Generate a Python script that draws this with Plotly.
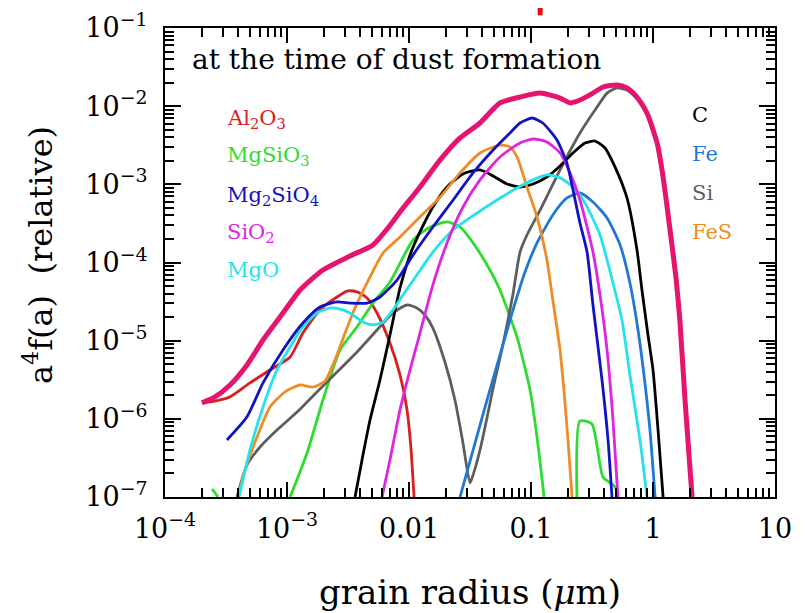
import plotly.graph_objects as go

# ---------------- data (grain radius in micron, a^4 f(a) relative) ----------------
a_total = [2.01e-4, 2.57e-4, 3.41e-4, 4.70e-4, 6.36e-4, 9.27e-4, 1.28e-3, 1.97e-3, 3.28e-3, 5.07e-3,
           6.61e-3, 8.44e-3, 1.23e-2, 1.80e-2, 2.62e-2, 3.82e-2, 5.57e-2, 8.13e-2, 0.119, 0.173,
           0.209, 0.252, 0.322, 0.389, 0.507, 0.612, 0.739, 0.893, 1.08, 1.21,
           1.33, 1.43, 1.55, 1.66, 1.83, 2.09]
f_total = [1.60e-6, 1.91e-6, 2.71e-6, 4.89e-6, 1.02e-5, 2.26e-5, 4.45e-5, 8.02e-5, 1.21e-4, 1.68e-4,
           2.68e-4, 4.43e-4, 9.25e-4, 2.05e-3, 3.92e-3, 6.09e-3, 1.10e-2, 1.31e-2, 1.47e-2, 1.27e-2,
           1.10e-2, 1.20e-2, 1.47e-2, 1.76e-2, 1.87e-2, 1.71e-2, 1.31e-2, 8.18e-3, 3.38e-3, 1.24e-3,
           4.06e-4, 1.68e-4, 5.97e-5, 1.84e-5, 1.74e-6, 1.0e-7]

a_al2o3 = [2.01e-4, 2.57e-4, 3.41e-4, 4.97e-4, 7.26e-4, 1.06e-3, 1.35e-3, 1.86e-3, 2.57e-3, 3.16e-3,
           3.75e-3, 4.53e-3, 5.47e-3, 6.98e-3, 8.44e-3, 9.64e-3, 1.04e-2, 1.10e-2]
f_al2o3 = [1.60e-6, 1.69e-6, 1.91e-6, 2.88e-6, 4.22e-6, 6.18e-6, 1.25e-5, 2.47e-5, 3.62e-5, 4.32e-5,
           4.20e-5, 3.52e-5, 2.26e-5, 9.33e-6, 3.64e-6, 1.30e-6, 3.99e-7, 1.0e-7]

a_mgsio3 = [2.43e-4, 2.72e-4, None,
            1.06e-3, 1.46e-3, 1.97e-3, 2.72e-3, 3.75e-3, 5.07e-3, 6.98e-3, 1.08e-2, 1.49e-2, 2.05e-2,
            2.62e-2, 3.35e-2, 4.61e-2, 5.57e-2, 7.68e-2, 9.82e-2, 0.112, 0.128, None,
            0.238, 0.252, 0.316, 0.389, 0.470, 0.507]
f_mgsio3 = [1.27e-7, 1.0e-7, None,
            1.0e-7, 3.66e-7, 1.74e-6, 7.60e-6, 1.50e-5, 3.03e-5, 5.64e-5, 1.94e-4, 2.85e-4, 3.30e-4,
            2.85e-4, 1.78e-4, 8.02e-5, 4.45e-5, 1.11e-5, 2.34e-6, 5.86e-7, 1.0e-7, None,
            1.0e-7, 9.39e-7, 8.59e-7, 1.80e-7, 1.43e-7, 1.23e-7]

a_mg2sio4 = [3.22e-4, 4.70e-4, 6.36e-4, 9.27e-4, 1.35e-3, 1.86e-3, 2.57e-3, 3.28e-3, 4.53e-3, 5.78e-3,
             7.97e-3, 1.08e-2, 1.57e-2, 2.30e-2, 3.35e-2, 4.89e-2, 6.73e-2, 8.13e-2, 0.102, 0.125,
             0.163, 0.197, 0.221, 0.252, 0.288, 0.322, 0.382, 0.428, 0.461]
f_mg2sio4 = [5.36e-7, 1.06e-6, 2.88e-6, 7.60e-6, 1.68e-5, 2.70e-5, 3.13e-5, 3.03e-5, 3.03e-5, 3.62e-5,
             5.97e-5, 1.25e-4, 2.85e-4, 6.31e-4, 1.40e-3, 2.75e-3, 4.54e-3, 6.09e-3, 7.06e-3, 6.09e-3,
             3.69e-3, 1.87e-3, 8.47e-4, 3.20e-4, 1.36e-4, 2.86e-5, 3.14e-6, 5.36e-7, 1.0e-7]

a_sio2 = [6.01e-3, 6.98e-3, 8.44e-3, 1.02e-2, 1.23e-2, 1.57e-2, 2.05e-2, 2.77e-2, 3.82e-2, 5.57e-2,
          8.13e-2, 0.104, 0.135, 0.173, 0.209, 0.252, 0.288, 0.322, 0.368, 0.420, 0.470, 0.516]
f_sio2 = [1.0e-7, 2.98e-7, 1.30e-6, 4.22e-6, 1.25e-5, 5.16e-5, 1.78e-4, 5.13e-4, 1.14e-3, 2.24e-3,
          3.38e-3, 3.80e-3, 3.48e-3, 2.52e-3, 1.40e-3, 6.31e-4, 2.85e-4, 1.36e-4, 3.84e-5, 7.60e-6,
          9.66e-7, 1.0e-7]

a_mgo = [4.04e-4, 4.97e-4, 6.36e-4, 8.28e-4, 1.06e-3, 1.35e-3, 1.76e-3, 2.25e-3, 2.72e-3, 3.28e-3,
         4.20e-3, 5.07e-3, 6.12e-3, 7.39e-3, 8.93e-3, 1.16e-2, 1.57e-2, 2.30e-2, 3.61e-2, 5.26e-2,
         7.68e-2, 0.104, 0.135, 0.173, 0.221, 0.277, 0.368, 0.470, 0.557, 0.647, 0.782, 0.893]
f_mgo = [1.0e-7, 3.99e-7, 1.42e-6, 4.22e-6, 8.30e-6, 1.50e-5, 2.26e-5, 2.62e-5, 2.54e-5, 2.26e-5,
         1.73e-5, 1.59e-5, 1.73e-5, 2.47e-5, 3.84e-5, 6.92e-5, 1.36e-4, 2.61e-4, 4.30e-4, 6.31e-4,
         8.98e-4, 1.14e-3, 1.32e-3, 1.21e-3, 9.25e-4, 5.77e-4, 2.25e-4, 5.47e-5, 1.84e-5, 3.64e-6,
         5.36e-7, 1.0e-7]

a_c = [3.61e-3, 4.12e-3, 4.79e-3, 5.78e-3, 6.98e-3, 8.44e-3, 1.02e-2, 1.23e-2, 1.57e-2, 2.05e-2,
       2.77e-2, 3.82e-2, 4.89e-2, 6.36e-2, 8.13e-2, 0.104, 0.135, 0.173, 0.221, 0.277,
       0.335, 0.404, 0.488, 0.612, 0.739, 0.812, 0.910, 1.0, 1.10, 1.21]
f_c = [1.0e-7, 2.98e-7, 9.66e-7, 3.14e-6, 1.18e-5, 4.72e-5, 1.25e-4, 2.46e-4, 5.13e-4, 9.25e-4,
       1.36e-3, 1.53e-3, 1.28e-3, 1.01e-3, 9.25e-4, 1.01e-3, 1.24e-3, 1.72e-3, 2.52e-3, 3.38e-3,
       3.58e-3, 2.92e-3, 1.67e-3, 6.69e-4, 1.45e-4, 4.45e-5, 1.18e-5, 4.22e-6, 7.20e-7, 1.0e-7]

a_fe = [2.62e-2, 3.35e-2, 4.36e-2, 5.57e-2, 7.12e-2, 8.93e-2, 0.112, 0.151, 0.197, 0.252,
        0.322, 0.420, 0.537, 0.647, 0.739, 0.828, 0.944, 1.04]
f_fe = [1.0e-7, 3.99e-7, 1.74e-6, 6.56e-6, 2.47e-5, 7.56e-5, 1.78e-4, 4.06e-4, 6.69e-4, 7.75e-4,
        5.94e-4, 3.71e-4, 1.68e-4, 5.47e-5, 1.68e-5, 4.60e-6, 7.20e-7, 1.0e-7]

a_si = [3.89e-4, 4.70e-4, 6.01e-4, 8.28e-4, 1.21e-3, 1.76e-3, 2.57e-3, 3.75e-3, 5.47e-3, 7.39e-3,
        9.64e-3, 1.16e-2, 1.35e-2, 1.57e-2, 1.97e-2, 2.38e-2, 2.77e-2, 3.16e-2, 3.35e-2, 3.82e-2,
        4.36e-2, 4.89e-2, 5.57e-2, 6.36e-2, 7.12e-2, 8.13e-2, 9.27e-2, 0.119, 0.173, 0.252,
        0.348, 0.420, 0.507, 0.612, 0.739, 0.893, 1.08, 1.21, 1.33, 1.43,
        1.55, 1.66, 1.83, 2.09]
f_si = [1.0e-7, 2.57e-7, 4.36e-7, 7.20e-7, 1.22e-6, 2.21e-6, 3.97e-6, 7.16e-6, 1.37e-5, 2.26e-5,
        2.86e-5, 2.62e-5, 2.13e-5, 1.45e-5, 5.33e-6, 1.74e-6, 4.91e-7, 1.51e-7, 1.91e-7, 3.99e-7,
        1.03e-6, 2.48e-6, 6.00e-6, 1.59e-5, 3.95e-5, 1.36e-4, 2.25e-4, 4.70e-4, 1.53e-3, 4.54e-3,
        9.75e-3, 1.47e-2, 1.71e-2, 1.61e-2, 1.24e-2, 7.71e-3, 3.18e-3, 1.17e-3, 3.82e-4, 1.58e-4,
        5.64e-5, 1.73e-5, 1.74e-6, 1.0e-7]

a_fes = [3.97e-4, 4.53e-4, 5.68e-4, 7.26e-4, 9.63e-4, 1.28e-3, 1.63e-3, 2.05e-3, 2.47e-3, 2.99e-3,
         3.61e-3, 4.53e-3, 6.12e-3, 8.44e-3, 1.23e-2, 1.80e-2, 2.62e-2, 3.82e-2, 5.57e-2, 6.73e-2,
         7.68e-2, 9.27e-2, 0.112, 0.135, 0.151, 0.173, 0.186, 0.201, 0.217]
f_fes = [1.0e-7, 2.22e-7, 5.86e-7, 1.42e-6, 2.21e-6, 2.71e-6, 2.55e-6, 3.05e-6, 5.66e-6, 1.25e-5,
         2.62e-5, 5.47e-5, 1.32e-4, 2.12e-4, 3.82e-4, 6.89e-4, 1.40e-3, 2.52e-3, 3.18e-3, 3.01e-3,
         2.24e-3, 9.25e-4, 3.82e-4, 1.08e-4, 3.31e-5, 7.60e-6, 2.34e-6, 5.36e-7, 1.0e-7]

x_tickvals = [1e-4, 1e-3, 1e-2, 1e-1, 1, 10]
x_ticktext = ["10<sup>\u22124</sup>", "10<sup>\u22123</sup>", "0.01", "0.1", "1", "10"]
y_tickvals = [1e-7, 1e-6, 1e-5, 1e-4, 1e-3, 1e-2, 1e-1]
y_ticktext = ["10<sup>\u22127</sup>", "10<sup>\u22126</sup>", "10<sup>\u22125</sup>", "10<sup>\u22124</sup>",
              "10<sup>\u22123</sup>", "10<sup>\u22122</sup>", "10<sup>\u22121</sup>"]

left_labels = ["Al<sub>2</sub>O<sub>3</sub>", "MgSiO<sub>3</sub>", "Mg<sub>2</sub>SiO<sub>4</sub>",
               "SiO<sub>2</sub>", "MgO"]
right_labels = ["C", "Fe", "Si", "FeS"]

# ---------------- styles ----------------
COL = {
    "al2o3": "#d8201e", "mgsio3": "#2edc2e", "mg2sio4": "#1212c4", "sio2": "#e024e0",
    "mgo": "#26e2ea", "c": "#000000", "fe": "#1f78d4", "si": "#5e5e5e", "fes": "#f08c28",
    "total": "#e6146e",
}
FONT = "DejaVu Serif"
LW = 2.8

series = [
    (a_al2o3, f_al2o3, COL["al2o3"], LW),
    (a_mgsio3, f_mgsio3, COL["mgsio3"], LW),
    (a_si, f_si, COL["si"], LW),
    (a_c, f_c, COL["c"], LW),
    (a_fe, f_fe, COL["fe"], LW),
    (a_fes, f_fes, COL["fes"], LW),
    (a_mgo, f_mgo, COL["mgo"], LW),
    (a_sio2, f_sio2, COL["sio2"], LW),
    (a_mg2sio4, f_mg2sio4, COL["mg2sio4"], LW),
    (a_total, f_total, COL["total"], 5.0),
]

fig = go.Figure()
for a, f, c, w in series:
    fig.add_trace(go.Scatter(x=a, y=f, mode="lines",
                             line=dict(color=c, width=w, shape="spline", smoothing=0.6),
                             showlegend=False, hoverinfo="skip"))

minor_x = [m * 10.0 ** e for e in range(-4, 1) for m in range(2, 10)]
minor_y = [m * 10.0 ** e for e in range(-7, -1) for m in range(2, 10)]

common = dict(type="log", ticks="inside", tickwidth=1.5, tickcolor="black",
              showline=True, linecolor="black", linewidth=2.2, mirror="allticks",
              showgrid=False, zeroline=False, automargin=False,
              tickfont=dict(family=FONT, size=27, color="black"))
fig.update_xaxes(range=[-4, 1], tickvals=x_tickvals, ticktext=x_ticktext, ticklen=15,
                 minor=dict(tickvals=minor_x, ticks="inside", ticklen=9, tickwidth=1.5,
                            tickcolor="black", showgrid=False),
                 ticklabelstandoff=6, **common)
fig.update_yaxes(range=[-7, -1], tickvals=y_tickvals, ticktext=y_ticktext, ticklen=16,
                 minor=dict(tickvals=minor_y, ticks="inside", ticklen=9, tickwidth=1.5,
                            tickcolor="black", showgrid=False),
                 ticklabelstandoff=10, **common)

ann = []
ann.append(dict(text="at the time of dust formation", x=0.041, y=0.932, xref="paper", yref="paper",
                xanchor="left", yanchor="middle", showarrow=False,
                font=dict(family=FONT, size=28, color="black")))
left_y = [0.806, 0.727, 0.642, 0.563, 0.484]
left_c = [COL["al2o3"], COL["mgsio3"], COL["mg2sio4"], COL["sio2"], COL["mgo"]]
for t, y, c in zip(left_labels, left_y, left_c):
    ann.append(dict(text=t, x=0.098, y=y, xref="paper", yref="paper", xanchor="left",
                    yanchor="middle", showarrow=False, font=dict(family=FONT, size=21, color=c)))
right_y = [0.814, 0.731, 0.648, 0.565]
right_c = [COL["c"], COL["fe"], COL["si"], COL["fes"]]
for t, y, c in zip(right_labels, right_y, right_c):
    ann.append(dict(text=t, x=0.861, y=y, xref="paper", yref="paper", xanchor="left",
                    yanchor="middle", showarrow=False, font=dict(family=FONT, size=21, color=c)))
ann.append(dict(text="a<sup>4</sup>f(a)  (relative)", x=-0.208, y=0.516, xref="paper", yref="paper",
                xanchor="center", yanchor="middle", textangle=-90, showarrow=False,
                font=dict(family=FONT, size=32, color="black")))
ann.append(dict(text="grain radius (<i>\u03bc</i>m)", x=0.5, y=-0.203, xref="paper", yref="paper",
                xanchor="center", yanchor="middle", showarrow=False,
                font=dict(family=FONT, size=34, color="black")))

# the page body has an 8 px margin: size/margins chosen so the frame sits at x 165-775, y 28-497
fig.update_layout(
    width=791, height=605,
    margin=dict(l=157, r=24, t=20, b=116, autoexpand=False),
    paper_bgcolor="white", plot_bgcolor="white",
    annotations=ann,
    shapes=[dict(type="line", xref="paper", yref="paper", x0=0.615, x1=0.615, y0=1.027, y1=1.045,
                 line=dict(color="#e01010", width=5))],
)

fig.write_html("out.html")
